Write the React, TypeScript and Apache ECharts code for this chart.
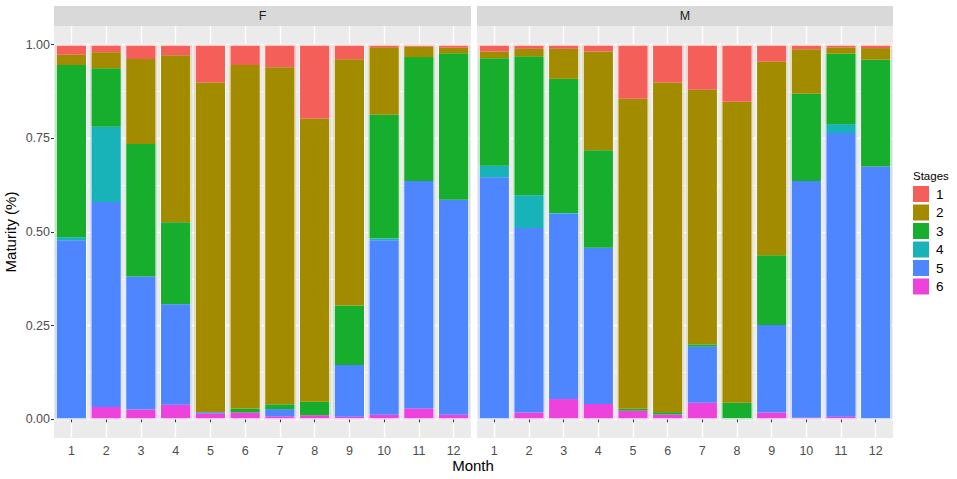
import React, { useEffect, useRef } from "react";
import * as echarts from "echarts";

const months = ["1", "2", "3", "4", "5", "6", "7", "8", "9", "10", "11", "12"];
const stages = ["1", "2", "3", "4", "5", "6"];
const yTickValues = [0, 0.25, 0.5, 0.75, 1];
const yMinorValues = [0.125, 0.375, 0.625, 0.875];

// Female (F) proportions per stage, months 1..12
const fStage1 = [0.027, 0.02, 0.038, 0.028, 0.101, 0.054, 0.06, 0.197, 0.039, 0.007, 0.005, 0.008];
const fStage2 = [0.027, 0.043, 0.227, 0.446, 0.88, 0.917, 0.9, 0.756, 0.657, 0.18, 0.028, 0.015];
const fStage3 = [0.46, 0.156, 0.354, 0.219, 0, 0.011, 0.013, 0.036, 0.159, 0.33, 0.331, 0.391];
const fStage4 = [0.008, 0.201, 0, 0, 0, 0, 0, 0, 0, 0.005, 0, 0];
const fStage5 = [0.478, 0.547, 0.355, 0.268, 0.004, 0, 0.019, 0, 0.138, 0.466, 0.607, 0.574];
const fStage6 = [0, 0.033, 0.026, 0.039, 0.015, 0.018, 0.008, 0.011, 0.007, 0.012, 0.029, 0.012];

// Male (M) proportions per stage, months 1..12
const mStage1 = [0.018, 0.011, 0.011, 0.018, 0.144, 0.101, 0.12, 0.152, 0.045, 0.012, 0.007, 0.009];
const mStage2 = [0.018, 0.02, 0.08, 0.264, 0.828, 0.88, 0.68, 0.804, 0.517, 0.119, 0.017, 0.031];
const mStage3 = [0.287, 0.371, 0.358, 0.26, 0.005, 0.006, 0.006, 0.044, 0.186, 0.233, 0.188, 0.285];
const mStage4 = [0.031, 0.087, 0.002, 0, 0, 0, 0, 0, 0, 0, 0.024, 0];
const mStage5 = [0.646, 0.493, 0.495, 0.417, 0, 0, 0.15, 0, 0.234, 0.632, 0.757, 0.675];
const mStage6 = [0, 0.018, 0.054, 0.041, 0.023, 0.013, 0.044, 0, 0.018, 0.004, 0.007, 0];

const stageColors: Record<string, string> = {
  "1": "#F45F5A",
  "2": "#A38B00",
  "3": "#17AE2D",
  "4": "#17B3B8",
  "5": "#4E86FF",
  "6": "#EE42DC",
};

const FONT = "Liberation Sans, Arial, sans-serif";
const PANEL_TOP = 26;
const PANEL_H = 412;
const panels = [
  { label: "F", left: 54, width: 417, data: [fStage1, fStage2, fStage3, fStage4, fStage5, fStage6] },
  { label: "M", left: 477, width: 416, data: [mStage1, mStage2, mStage3, mStage4, mStage5, mStage6] },
];

export default function App() {
  const ref = useRef<HTMLDivElement>(null);
  useEffect(() => {
    if (!ref.current) return;
    const chart = echarts.init(ref.current, null, { renderer: "svg" });

    const grid: any[] = [];
    const xAxis: any[] = [];
    const yAxis: any[] = [];
    const series: any[] = [];
    const graphic: any[] = [];

    panels.forEach((p, gi) => {
      grid.push({
        left: p.left,
        top: PANEL_TOP,
        width: p.width,
        height: PANEL_H,
        show: true,
        backgroundColor: "#EBEBEB",
        borderWidth: 0,
      });
      xAxis.push({
        type: "category",
        gridIndex: gi,
        data: months,
        axisLine: { show: false },
        axisTick: { show: true, alignWithLabel: true, length: 3, lineStyle: { color: "#333333", width: 1 } },
        axisLabel: { color: "#4D4D4D", fontSize: 12.5, fontFamily: FONT, margin: 6 },
        splitLine: { show: true, alignWithLabel: true, lineStyle: { color: "#FFFFFF", width: 1.3 } },
      });
      yAxis.push({
        type: "value",
        gridIndex: gi,
        min: -0.05,
        max: 1.05,
        axisLine: { show: false },
        axisTick: { show: gi === 0, length: 3, customValues: yTickValues, lineStyle: { color: "#333333" } },
        axisLabel: {
          show: gi === 0,
          customValues: yTickValues,
          formatter: (v: number) => v.toFixed(2),
          color: "#4D4D4D",
          fontSize: 12.5,
          fontFamily: FONT,
          margin: 4,
        },
        splitLine: { show: true, lineStyle: { color: "#FFFFFF", width: 1.3 } },
        name: gi === 0 ? "Maturity (%)" : "",
        nameLocation: "middle",
        nameGap: 36,
        nameTextStyle: { color: "#000000", fontSize: 15, fontFamily: FONT },
      });
      yAxis.push({
        type: "value",
        gridIndex: gi,
        min: -0.05,
        max: 1.05,
        axisLine: { show: false },
        axisTick: { show: false, customValues: yMinorValues },
        axisLabel: { show: false, customValues: yMinorValues },
        splitLine: { show: true, lineStyle: { color: "#FFFFFF", width: 0.6 } },
      });
      const yIdx = gi * 2;
      // stack bottom-up: 6,5,4,3,2,1
      for (let s = 5; s >= 0; s--) {
        series.push({
          type: "bar",
          name: stages[s],
          xAxisIndex: gi,
          yAxisIndex: yIdx,
          stack: "st" + gi,
          data: p.data[s],
          barCategoryGap: "10%",
          barGap: "-100%",
          itemStyle: { color: stageColors[stages[s]] },
          z: 2,
        });
      }
      const totals = months.map((_, i) => p.data.reduce((acc, arr) => acc + arr[i], 0));
      series.push({
        type: "bar",
        name: "outline" + gi,
        xAxisIndex: gi,
        yAxisIndex: yIdx,
        data: totals,
        barCategoryGap: "10%",
        barGap: "-100%",
        itemStyle: { color: "rgba(0,0,0,0)", borderColor: "#FFFFFF", borderWidth: 1 },
        silent: true,
        z: 3,
      });
      graphic.push({
        type: "rect",
        shape: { x: p.left, y: 6, width: p.width, height: 20 },
        style: { fill: "#D9D9D9" },
      });
      graphic.push({
        type: "text",
        x: p.left + p.width / 2,
        y: 16,
        style: {
          text: p.label,
          fill: "#1A1A1A",
          fontSize: 12.5,
          fontFamily: FONT,
          align: "center",
          verticalAlign: "middle",
        },
      });
    });

    graphic.push({
      type: "text",
      x: 473,
      y: 465,
      style: { text: "Month", fill: "#000000", fontSize: 15, fontFamily: FONT, align: "center", verticalAlign: "middle" },
    });
    graphic.push({
      type: "text",
      x: 913,
      y: 176,
      style: { text: "Stages", fill: "#000000", fontSize: 11.5, fontFamily: FONT, align: "left", verticalAlign: "middle" },
    });

    chart.setOption({
      animation: false,
      textStyle: { fontFamily: FONT },
      grid,
      xAxis,
      yAxis,
      series,
      graphic,
      legend: {
        data: stages,
        orient: "vertical",
        left: 913,
        top: 186,
        padding: 0,
        itemWidth: 16,
        itemHeight: 16,
        itemGap: 2.5,
        icon: "rect",
        selectedMode: false,
        textStyle: { color: "#000000", fontSize: 13.5, fontFamily: FONT, padding: [0, 0, 0, 2] },
      },
    });
    return () => chart.dispose();
  }, []);

  return (
    <div
      ref={ref}
      style={{ position: "fixed", left: 0, top: 0, width: 957, height: 479, background: "#FFFFFF" }}
    />
  );
}
